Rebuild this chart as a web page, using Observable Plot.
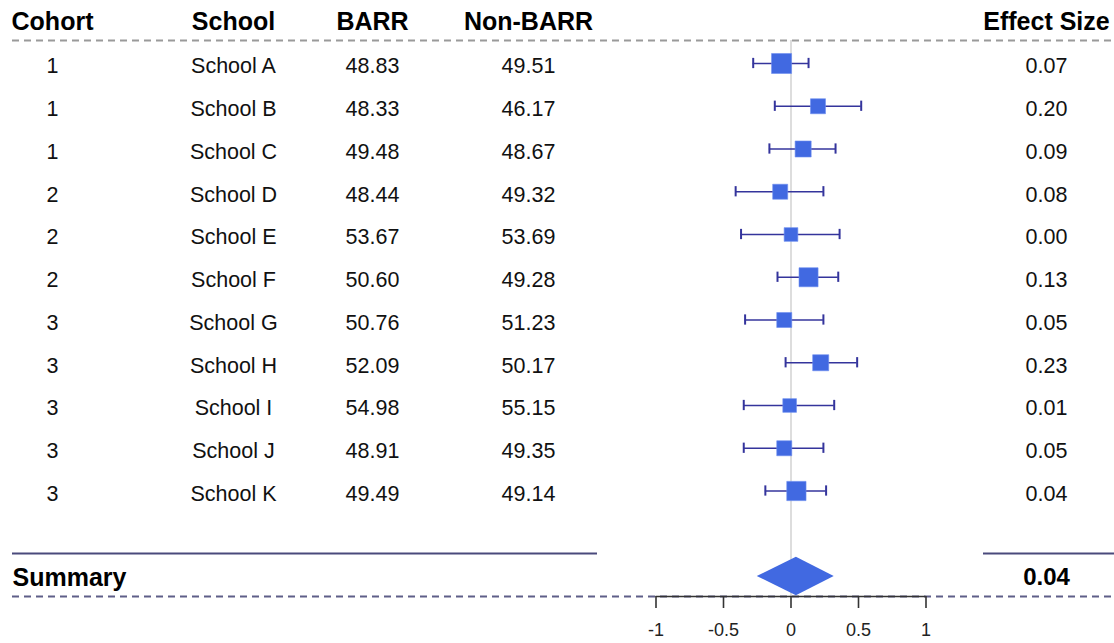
<!DOCTYPE html>
<html>
<head>
<meta charset="utf-8">
<script src="https://cdn.jsdelivr.net/npm/d3@7"></script>
<script src="https://cdn.jsdelivr.net/npm/@observablehq/plot@0.6"></script>
<style>
  html, body { margin: 0; padding: 0; background: #fff; }
  #chart { width: 1114px; height: 643px; }
</style>
</head>
<body>
<div id="chart"></div>
<script>
// ---- data ----
const cohorts = [1, 1, 1, 2, 2, 2, 3, 3, 3, 3, 3];
const schools = ["School A", "School B", "School C", "School D", "School E", "School F",
                 "School G", "School H", "School I", "School J", "School K"];
const barr    = ["48.83", "48.33", "49.48", "48.44", "53.67", "50.60", "50.76", "52.09", "54.98", "48.91", "49.49"];
const nonBarr = ["49.51", "46.17", "48.67", "49.32", "53.69", "49.28", "51.23", "50.17", "55.15", "49.35", "49.14"];
const effectLabels = ["0.07", "0.20", "0.09", "0.08", "0.00", "0.13", "0.05", "0.23", "0.01", "0.05", "0.04"];
const effect = [-0.07, 0.20, 0.09, -0.08, 0.00, 0.13, -0.05, 0.22, -0.01, -0.05, 0.04];
const lower  = [-0.28, -0.12, -0.16, -0.41, -0.37, -0.10, -0.34, -0.04, -0.35, -0.35, -0.19];
const upper  = [ 0.13,  0.52,  0.33,  0.24,  0.36,  0.35,  0.24,  0.49,  0.32,  0.24,  0.26];
const weight = [13.7, 7.7, 8.8, 7.7, 6.4, 12.4, 7.7, 8.8, 6.4, 7.7, 12.7];
const headers = ["Cohort", "School", "BARR", "Non-BARR", "Effect Size"];
const summaryLabel = "Summary";
const summary = {est: 0.04, lo: -0.25, hi: 0.32, label: "0.04"};
const axisTicks = [-1, -0.5, 0, 0.5, 1];
const axisTickLabels = ["-1", "-0.5", "0", "0.5", "1"];

// ---- layout ----
const W = 1114, H = 643;
const X0 = 790.5, UNIT = 135;       // pixel of effect 0, pixels per unit
const Y0 = 63, ROW = 42.75;         // pixel of first row, row pitch
const toX = p => (p - X0) / UNIT;   // pixel -> effect units
const toY = p => (p - Y0) / ROW;    // pixel -> row units
const colX = {cohort: 52, school: 233, barr: 372, nonBarr: 528, effect: 1046};
const summaryRow = 12;
const axisY = 596;

const rows = schools.map((s, i) => ({
  i, cohort: String(cohorts[i]), school: s, barr: barr[i], nonBarr: nonBarr[i],
  es: effectLabels[i], est: effect[i], lo: lower[i], hi: upper[i], w: weight[i]
}));
const ticks = axisTicks.map((v, k) => ({v, label: axisTickLabels[k]}));

const font = "'Liberation Sans', Arial, sans-serif";
const capH = 0.12;
const diamondH = 0.45;
const diamond = [
  {y: summaryRow - diamondH, x1: summary.est, x2: summary.est},
  {y: summaryRow, x1: summary.lo, x2: summary.hi},
  {y: summaryRow + diamondH, x1: summary.est, x2: summary.est}
];

const textCols = [["cohort", "cohort"], ["school", "school"], ["barr", "barr"], ["nonBarr", "nonBarr"], ["es", "effect"]];

const marks = [
  // zero reference line
  Plot.ruleX([0], {y1: toY(40), y2: toY(axisY), stroke: "#d2d2d2", strokeWidth: 1.5}),
  // top dashed
  Plot.ruleY([toY(40)], {x1: toX(12), x2: toX(W), stroke: "#9a9a9a", strokeWidth: 2, strokeDasharray: "7,5"}),
  // bottom dashed
  Plot.ruleY([toY(axisY)], {x1: toX(12), x2: toX(W), stroke: "#5e5e88", strokeWidth: 2, strokeDasharray: "7,5"}),
  // summary solid lines
  Plot.ruleY([toY(553)], {x1: toX(12), x2: toX(597), stroke: "#4a4a7c", strokeWidth: 2}),
  Plot.ruleY([toY(553)], {x1: toX(983), x2: toX(W), stroke: "#4a4a7c", strokeWidth: 2}),
  // axis line, ticks, labels
  Plot.ruleY([toY(axisY)], {x1: -1, x2: 1, stroke: "#333", strokeWidth: 1.6}),
  Plot.ruleX(ticks, {x: "v", y1: toY(axisY), y2: toY(axisY + 12), stroke: "#333", strokeWidth: 1.6}),
  Plot.text(ticks, {x: "v", y: toY(630), text: "label", fontSize: 18, fill: "#222", fontFamily: font}),
  // whiskers
  Plot.ruleY(rows, {y: "i", x1: "lo", x2: "hi", stroke: "#34349c", strokeWidth: 1.6}),
  Plot.ruleX(rows, {x: "lo", y1: d => d.i - capH, y2: d => d.i + capH, stroke: "#34349c", strokeWidth: 2}),
  Plot.ruleX(rows, {x: "hi", y1: d => d.i - capH, y2: d => d.i + capH, stroke: "#34349c", strokeWidth: 2}),
  // boxes
  Plot.dot(rows, {x: "est", y: "i", r: "w", symbol: "square", fill: "#4169e1", stroke: "#6f8ff0", strokeWidth: 0.6}),
  // summary diamond
  Plot.areaX(diamond, {y: "y", x1: "x1", x2: "x2", fill: "#4169e1", curve: "linear"}),
  // headers
  ...headers.map((h, k) => Plot.text([h], {text: d => d, y: [-1], dy: 1, frameAnchor: "left",
      dx: colX[textCols[k][1]], textAnchor: "middle", fontSize: 25, fontWeight: "bold", fill: "#000", fontFamily: font})),
  // table cells
  ...textCols.map(([field, col]) => Plot.text(rows, {text: field, y: "i", dy: 3, frameAnchor: "left",
      dx: colX[col], textAnchor: "middle", fontSize: 21.5, fill: "#111", fontFamily: font})),
  // summary
  Plot.text([summaryLabel], {text: d => d, y: [summaryRow], dy: 1, frameAnchor: "left", dx: 12,
      textAnchor: "start", fontSize: 25, fontWeight: "bold", fill: "#000", fontFamily: font}),
  Plot.text([summary.label], {text: d => d, y: [summaryRow], dy: 1, frameAnchor: "left", dx: colX.effect,
      textAnchor: "middle", fontSize: 24, fontWeight: "bold", fill: "#000", fontFamily: font})
];

const chart = Plot.plot({
  width: W, height: H,
  marginLeft: 0, marginRight: 0, marginTop: 0, marginBottom: 0,
  x: {domain: [-1, 1], range: [X0 - UNIT, X0 + UNIT], axis: null},
  y: {domain: [0, 12], range: [Y0, Y0 + 12 * ROW], axis: null},
  r: {type: "sqrt", domain: [0, 13.7], range: [0, 11.3]},
  style: {fontFamily: font, background: "#fff", overflow: "visible"},
  marks
});
document.getElementById("chart").appendChild(chart);
</script>
</body>
</html>
